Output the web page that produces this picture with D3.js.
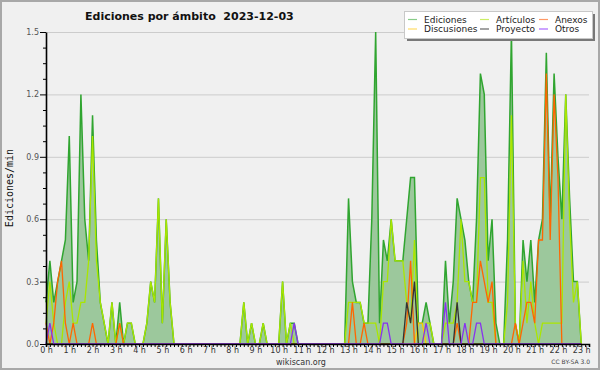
<!DOCTYPE html>
<html>
<head>
<meta charset="utf-8">
<script src="https://cdn.jsdelivr.net/npm/d3@7/dist/d3.min.js"></script>
<style>
	body { margin: 0; background: #f0f0f0; }
	text { font-family: "DejaVu Sans", sans-serif; }
</style>
</head>
<body>
<div id="chart"></div>
<script>
//--------------------------------------------------
// datos (un punto cada 10 minutos, ediciones/min)
//--------------------------------------------------

var titulo = "Ediciones por ámbito  2023-12-03"

var ediciones = [
	0.2,0.4,0.2,0.3,0.4,0.5,   // 0 h
	1.0,0.2,0.3,1.2,0.6,0.4,   // 1 h
	1.1,0.5,0.2,0.1,0,0.2,     // 2 h
	0,0.2,0,0.1,0.1,0,         // 3 h
	0,0,0.1,0.3,0.2,0.7,       // 4 h
	0.1,0.6,0.2,0,0,0,         // 5 h
	0,0,0,0,0,0,               // 6 h
	0,0,0,0,0,0,               // 7 h
	0,0,0,0.2,0,0.1,           // 8 h
	0,0,0.1,0,0,0,             // 9 h
	0,0.3,0,0.1,0.1,0,         // 10 h
	0,0,0,0,0,0,               // 11 h
	0,0,0,0,0,0,               // 12 h
	0.7,0.3,0.2,0.2,0.1,0.1,   // 13 h
	0.6,1.5,0.1,0.5,0.4,0.6,   // 14 h
	0.4,0.4,0.4,0.6,0.8,0.8,   // 15 h
	0.1,0.1,0.2,0.1,0,0,       // 16 h
	0,0.4,0.1,0.3,0.7,0.6,     // 17 h
	0.5,0.3,0.2,0.6,1.3,1.2,   // 18 h
	0.4,0.6,0.1,0,0,0.5,       // 19 h
	1.5,0.1,0,0.5,0.3,0.5,     // 20 h
	0.2,0.5,0.6,1.4,0.6,1.3,   // 21 h
	0.9,0.6,1.2,0.7,0.3,0.3,   // 22 h
	0                          // 23 h
]

var articulos = [
	0.1,0.3,0.1,0,0,0.2,
	0.3,0.1,0.1,0.2,0.2,0.4,
	1.0,0.4,0.2,0.1,0,0.2,
	0,0.1,0,0.1,0.1,0,
	0,0,0.1,0.3,0.2,0.7,
	0.1,0.6,0.2,0,0,0,
	0,0,0,0,0,0,
	0,0,0,0,0,0,
	0,0,0,0.2,0,0.1,
	0,0,0.1,0,0,0,
	0,0.3,0,0.1,0,0,
	0,0,0,0,0,0,
	0,0,0,0,0,0,
	0.2,0.2,0.2,0.2,0.1,0.1,
	0.1,0.1,0,0.3,0.3,0.6,
	0.4,0.4,0.4,0.2,0.1,0.5,
	0,0,0.1,0.1,0,0,
	0,0.1,0.1,0.1,0.2,0.6,
	0.3,0.3,0.2,0.2,0.8,0.8,
	0.2,0.2,0,0,0,0.2,
	1.1,0.1,0,0.4,0.1,0.3,
	0.1,0,0.1,0.1,0.1,0.1,
	0.1,0.1,1.2,0.6,0.2,0.3,
	0
]

// series con pocos valores: [intervalo, valor], el resto es 0
var anexos = [[0,0.1],[2,0.1],[3,0.3],[4,0.4],[5,0.1],[7,0.1],[12,0.1],[19,0.1],
	[79,0.2],[82,0.1],[93,0.1],[94,0.4],[106,0.1],[110,0.2],[111,0.2],[112,0.4],
	[113,0.3],[114,0.2],[115,0.3],[121,0.1],[123,0.1],[124,0.2],[125,0.2],[126,0.1],
	[127,0.5],[128,0.5],[129,1.3],[130,0.5],[131,1.2],[132,0.8]]
var discusiones = [[96,0.1],[97,0.1]]
var proyecto = [[93,0.2],[94,0.1],[95,0.3],[106,0.2]]
var otros = [[1,0.1],[64,0.1],[87,0.1],[88,0.1],[98,0.1],[103,0.2],[108,0.1],[111,0.1],[112,0.1]]

var yTicks = [0, 0.3, 0.6, 0.9, 1.2, 1.5]

//--------------------------------------------------
// variabili di disegno
//--------------------------------------------------

var width = 600,
	height = 370,
	margin = {top: 32, right: 11, bottom: 26, left: 46}

var color = {ediciones: "#30a530", relleno: "#9cc89c", articulos: "#aae600", anexos: "#ff6600",
	discusiones: "#ffcc00", proyecto: "#333333", otros: "#8833ee"}

var colorLeyenda = {ediciones: "#88cc88", articulos: "#ccee66", anexos: "#ff9966",
	discusiones: "#ffdd66", proyecto: "#666666", otros: "#aa66ff"}

function completa(puntos) {
	var serie = ediciones.map(function() { return 0 })
	puntos.forEach(function(p) { serie[p[0]] = p[1] })
	return serie
}

var x = d3.scaleLinear().domain([0, 140]).range([margin.left, width - margin.right])
var y = d3.scaleLinear().domain([0, 1.5]).range([height - margin.bottom, margin.top])

var svg = d3.select("#chart").append("svg")
	.attr("width", width)
	.attr("height", height)

svg.append("rect")
	.attr("x", 1).attr("y", 1)
	.attr("width", width - 2).attr("height", height - 2)
	.attr("fill", "#f0f0f0")
	.attr("stroke", "#a8a8a8")
	.attr("stroke-width", 2)

// griglia
svg.append("g").selectAll("line")
	.data(yTicks.slice(1))
	.enter().append("line")
	.attr("x1", x(0)).attr("x2", x(140))
	.attr("y1", function(d) { return y(d) + 0.5 })
	.attr("y2", function(d) { return y(d) + 0.5 })
	.attr("stroke", "#cccccc")

//--------------------------------------------------
// serie
//--------------------------------------------------

var area = d3.area()
	.x(function(d, i) { return x(i) })
	.y0(y(0))
	.y1(function(d) { return y(d) })

var linea = d3.line()
	.x(function(d, i) { return x(i) })
	.y(function(d) { return y(d) })

svg.append("path")
	.attr("d", area(ediciones))
	.attr("fill", color.relleno)

svg.append("path")
	.attr("d", linea(ediciones))
	.attr("fill", "none")
	.attr("stroke", color.ediciones)
	.attr("stroke-width", 1.5)

var series = [
	{nombre: "articulos", valores: articulos},
	{nombre: "discusiones", valores: completa(discusiones)},
	{nombre: "anexos", valores: completa(anexos)},
	{nombre: "proyecto", valores: completa(proyecto)},
	{nombre: "otros", valores: completa(otros)}
]

svg.append("g").selectAll("path")
	.data(series)
	.enter().append("path")
	.attr("d", function(d) { return linea(d.valores) })
	.attr("fill", "none")
	.attr("stroke", function(d) { return color[d.nombre] })
	.attr("stroke-width", 1.3)

//--------------------------------------------------
// assi
//--------------------------------------------------

var xAxis = d3.axisBottom(x)
	.tickValues(d3.range(0, 141))
	.tickSize(3)
	.tickPadding(0)
	.tickFormat(function(d) { return (d % 6 == 0 && d < 140) ? (d / 6) + " h" : "" })

var gx = svg.append("g")
	.attr("transform", "translate(0," + y(0) + ")")
	.call(xAxis)
gx.select(".domain").attr("stroke", "#000").attr("stroke-width", 1.6)
gx.selectAll(".tick line").attr("stroke", "#000")
gx.selectAll("text").attr("font-size", 8).attr("fill", "#333").attr("font-family", "DejaVu Sans")

var yAxis = d3.axisLeft(y)
	.tickValues(d3.range(0, 21).map(function(k) { return k * 0.075 }))
	.tickSize(0)
	.tickFormat("")

var gy = svg.append("g")
	.attr("transform", "translate(" + x(0) + ",0)")
	.call(yAxis)
gy.select(".domain").attr("stroke", "#000").attr("stroke-width", 1.6)
gy.selectAll(".tick line")
	.attr("stroke", "#000")
	.attr("x2", function(d, i) { return i % 4 == 0 ? -6 : -3 })

gy.selectAll(".tick").filter(function(d, i) { return i % 4 == 0 })
	.append("text")
	.attr("x", -7)
	.attr("dy", "0.32em")
	.attr("text-anchor", "end")
	.attr("font-size", 8)
	.attr("fill", "#555")
	.text(function(d) { return d3.format(".1f")(d) })

svg.append("text")
	.attr("transform", "translate(13," + y(0.75) + ") rotate(-90)")
	.attr("text-anchor", "middle")
	.attr("font-size", 10)
	.attr("fill", "#111")
	.style("font-family", "DejaVu Sans Mono")
	.text("Ediciones/min")

// il titolo ha due spazi: serve white-space pre
svg.append("text")
	.attr("x", 85).attr("y", 20)
	.attr("font-size", 11)
	.attr("font-weight", "bold")
	.attr("fill", "#111")
	.style("white-space", "pre")
	.text(titulo)

svg.append("text")
	.attr("x", 301).attr("y", 365)
	.attr("text-anchor", "middle")
	.attr("font-size", 8)
	.attr("fill", "#333")
	.text("wikiscan.org")

svg.append("text")
	.attr("x", 590).attr("y", 364)
	.attr("text-anchor", "end")
	.attr("font-size", 6)
	.attr("fill", "#444")
	.text("CC BY-SA 3.0")

//--------------------------------------------------
// leyenda
//--------------------------------------------------

var leyenda = [
	{nombre: "ediciones", texto: "Ediciones", col: 0, fila: 0},
	{nombre: "articulos", texto: "Artículos", col: 1, fila: 0},
	{nombre: "anexos", texto: "Anexos", col: 2, fila: 0},
	{nombre: "discusiones", texto: "Discusiones", col: 0, fila: 1},
	{nombre: "proyecto", texto: "Proyecto", col: 1, fila: 1},
	{nombre: "otros", texto: "Otros", col: 2, fila: 1}
]
var colX = [408, 480, 539]

svg.append("rect")
	.attr("x", 407).attr("y", 14).attr("width", 188).attr("height", 27)
	.attr("fill", "#787878")
svg.append("rect")
	.attr("x", 404.5).attr("y", 11.5).attr("width", 188).attr("height", 27)
	.attr("fill", "#fff")
	.attr("stroke", "#c8c8c8")

var item = svg.append("g").selectAll("g")
	.data(leyenda)
	.enter().append("g")
	.attr("transform", function(d) { return "translate(" + colX[d.col] + "," + (19.5 + d.fila * 9.5) + ")" })

item.append("line")
	.attr("x1", 0).attr("x2", 9)
	.attr("stroke", function(d) { return colorLeyenda[d.nombre] })
	.attr("stroke-width", 1.2)

item.append("text")
	.attr("x", 16).attr("y", 3)
	.attr("font-size", 9)
	.attr("fill", "#222")
	.text(function(d) { return d.texto })
</script>
</body>
</html>
